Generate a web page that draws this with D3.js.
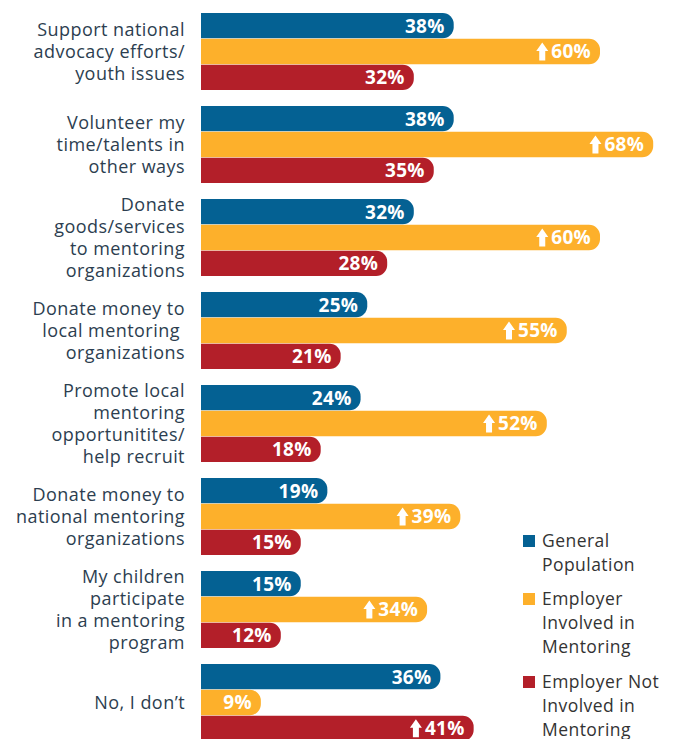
<!DOCTYPE html>
<html>
<head>
<meta charset="utf-8">
<script src="https://cdn.jsdelivr.net/npm/d3@7"></script>
<style>
  body { margin: 0; background: #fff; }
  svg { display: block; }
</style>
</head>
<body>
<svg id="chart"></svg>
<script>
// categories (line breaks as in the original)
const categories = [
    ['Support national', 'advocacy efforts/', 'youth issues'],
    ['Volunteer my', 'time/talents in', 'other ways'],
    ['Donate', 'goods/services', 'to mentoring', 'organizations'],
    ['Donate money to', 'local mentoring ', 'organizations'],
    ['Promote local', 'mentoring', 'opportunitites/', 'help recruit'],
    ['Donate money to', 'national mentoring', 'organizations'],
    ['My children', 'participate', 'in a mentoring', 'program'],
    ['No, I don\u2019t']
]
const seriesNames = ['General Population', 'Employer Involved in Mentoring', 'Employer Not Involved in Mentoring']
const legendLines = [['General', 'Population'], ['Employer', 'Involved in', 'Mentoring'], ['Employer Not', 'Involved in', 'Mentoring']]
const generalPop = [38, 38, 32, 25, 24, 19, 15, 36]
const employerInvolved = [60, 68, 60, 55, 52, 39, 34, 9]
const employerNotInvolved = [32, 35, 28, 21, 18, 15, 12, 41]
// which values carry the "up" arrow
const arrowInvolved = [1, 1, 1, 1, 1, 1, 1, 0]
const arrowNotInvolved = [0, 0, 0, 0, 0, 0, 0, 1]
const colors = ['#046193', '#fdb02b', '#b31f29']

const W = 673, H = 739
const labelFont = '"Open Sans", sans-serif'
const svg = d3.select('#chart').attr('width', W).attr('height', H)

let rows = categories.map((c, i) => ({
    idx: i,
    lines: c,
    vals: [
        {s: 0, v: generalPop[i], up: false},
        {s: 1, v: employerInvolved[i], up: !!arrowInvolved[i]},
        {s: 2, v: employerNotInvolved[i], up: !!arrowNotInvolved[i]}
    ]
}))

const y = d3.scaleBand()
    .domain(d3.range(categories.length))
    .range([13, 741])
    .paddingInner(16 / 93)
    .paddingOuter(0)

const ySub = d3.scaleBand()
    .domain([0, 1, 2])
    .range([0, y.bandwidth()])
    .paddingInner(0.02)

const x = d3.scaleLinear().domain([0, 100]).range([201, 866])

// flat left, rounded right end
function barPath(x0, x1, y0, h) {
    let r = Math.min(11, (x1 - x0) / 2)
    return `M${x0},${y0}H${x1 - r}A${r},${r} 0 0 1 ${x1},${y0 + r}V${y0 + h - r}A${r},${r} 0 0 1 ${x1 - r},${y0 + h}H${x0}Z`
}

const g = svg.selectAll('g.row')
    .data(rows)
    .join('g')
    .attr('class', 'row')
    .attr('transform', d => `translate(0,${y(d.idx)})`)

// category labels
g.append('text')
    .attr('x', 185)
    .attr('text-anchor', 'end')
    .attr('font-family', labelFont)
    .attr('font-size', 18)
    .attr('letter-spacing', 0.45)
    .attr('fill', '#2c3e50')
    .selectAll('tspan')
    .data(d => d.lines.map((l, k) => ({l, k, n: d.lines.length})))
    .join('tspan')
    .attr('x', 185)
    .attr('y', d => y.bandwidth() / 2 + (d.k - (d.n - 1) / 2) * 22)
    .attr('dy', '0.35em')
    .text(d => d.l)

const bars = g.selectAll('g.bar')
    .data(d => d.vals)
    .join('g')
    .attr('class', 'bar')

bars.append('path')
    .attr('d', d => barPath(x(0), x(d.v), ySub(d.s), ySub.bandwidth()))
    .attr('fill', d => colors[d.s])

bars.append('text')
    .attr('x', d => x(d.v) - 9)
    .attr('y', d => ySub(d.s) + ySub.bandwidth() / 2)
    .attr('dy', '0.36em')
    .attr('text-anchor', 'end')
    .attr('font-family', labelFont)
    .attr('font-weight', 'bold')
    .attr('font-size', 19)
    .attr('letter-spacing', 0.3)
    .attr('fill', '#fff')
    .text(d => d.v + '%')
    .each(function(d) { d.tw = this.getComputedTextLength() })

// up arrows
bars.filter(d => d.up)
    .append('path')
    .attr('fill', '#fff')
    .attr('d', d => {
        let ax = x(d.v) - 9 - d.tw - 3 - 6
        let ay = ySub(d.s) + ySub.bandwidth() / 2
        return `M${ax},${ay - 9}L${ax + 6},${ay - 0.5}H${ax + 3}V${ay + 9}H${ax - 3}V${ay - 0.5}H${ax - 6}Z`
    })

// legend
const leg = svg.append('g')
const legY = [535, 593, 676]
seriesNames.forEach((s, i) => {
    leg.append('rect')
        .attr('x', 523).attr('y', legY[i])
        .attr('width', 12).attr('height', 12)
        .attr('fill', colors[i])
    leg.append('text')
        .attr('font-family', labelFont)
        .attr('font-size', 17.5)
        .attr('letter-spacing', 0.45)
        .attr('fill', '#333')
        .selectAll('tspan')
        .data(legendLines[i])
        .join('tspan')
        .attr('x', 542)
        .attr('y', (d, k) => legY[i] + 6 + k * 24)
        .attr('dy', '0.35em')
        .text(d => d)
})
</script>
</body>
</html>
